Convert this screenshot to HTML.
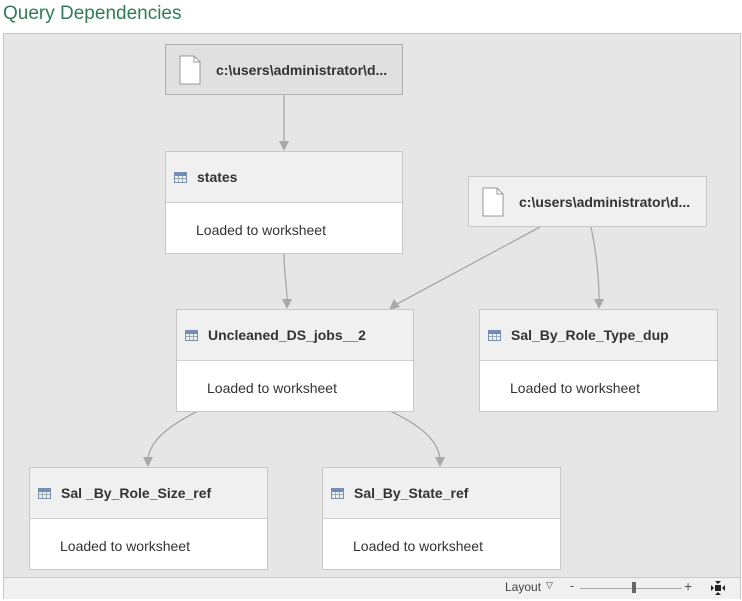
<!DOCTYPE html>
<html><head><style>
body{margin:0;width:742px;height:601px;background:#fff;font-family:"Segoe UI","Liberation Sans",sans-serif;position:relative;overflow:hidden}
.title{position:absolute;left:3px;top:3px;font-size:19px;color:#2f7c59;}
.canvas{position:absolute;left:3px;top:33px;width:736px;height:564px;background:#e6e6e6;border:1px solid #c6c6c6}
.bar{position:absolute;left:4px;top:577px;width:736px;height:21px;background:#f0f0f0;border-top:1px solid #c8c8c8}
.node{position:absolute;border:1px solid #c8c8c8;background:#fff;box-sizing:border-box}
.hd{height:51px;background:#f0f0f0;border-bottom:1px solid #d0d0d0;box-sizing:border-box;position:relative}
.hd b{position:absolute;left:31px;top:17px;font-size:14px;color:#333}
.bd{padding:19px 0 0 30px;font-size:14px;color:#333}
.ic{position:absolute;left:8px;top:20px;width:13px;height:11px;border:1px solid #7a8fb0;box-sizing:border-box;background:
linear-gradient(#6d8cc0 0 3px,transparent 3px),repeating-linear-gradient(90deg,transparent 0 3px,#9aa 3px 4px),repeating-linear-gradient(transparent 0 5px,#9aa 5px 6px)}
.src{position:absolute;border:1px solid #b0b0b0;box-sizing:border-box;height:51px}
.src b{position:absolute;left:50px;top:17px;font-size:14px;color:#333}
.doc{position:absolute;left:13px;top:10px;width:22px;height:30px}
</style></head><body>
<div class="title">Query Dependencies</div>
<div class="canvas"></div>
<svg width="742" height="601" style="position:absolute;left:0;top:0">
<g stroke="#a8a8a8" stroke-width="1.3" fill="none">
<path d="M284 95 L284 143"/>
<path d="M284 253 C284 275 287 285 287 301"/>
<path d="M540 227 L397 304"/>
<path d="M591 227 C596 250 599 275 599 301"/>
<path d="M198 411 C170 425 150 440 148 459"/>
<path d="M390 411 C420 425 438 440 440 459"/>
</g>
<g fill="#a8a8a8">
<path d="M279 141 L289 141 L284 151Z"/>
<path d="M282 299 L292 299 L287 309Z"/>
<path d="M394 299 L400 307 L389 310Z"/>
<path d="M594 299 L604 299 L599 309Z"/>
<path d="M143 457 L153 457 L148 467Z"/>
<path d="M435 457 L445 457 L440 467Z"/>
</g>
</svg>
<div class="src" style="left:165px;top:44px;width:238px;background:#e0e0e0">
<svg class="doc" viewBox="0 0 22 30"><path d="M1 1H15L21 7V29H1Z" fill="#fff" stroke="#999"/><path d="M15 1V7H21" fill="none" stroke="#999"/></svg><b>c:\users\administrator\d...</b></div>
<div class="src" style="left:468px;top:176px;width:239px;background:#f0f0f0;border-color:#c8c8c8">
<svg class="doc" viewBox="0 0 22 30"><path d="M1 1H15L21 7V29H1Z" fill="#fff" stroke="#999"/><path d="M15 1V7H21" fill="none" stroke="#999"/></svg><b>c:\users\administrator\d...</b></div>
<div class="node" style="left:165px;top:151px;width:238px;height:103px"><div class="hd"><span class="ic"></span><b>states</b></div><div class="bd">Loaded to worksheet</div></div>
<div class="node" style="left:176px;top:309px;width:238px;height:103px"><div class="hd"><span class="ic"></span><b>Uncleaned_DS_jobs__2</b></div><div class="bd">Loaded to worksheet</div></div>
<div class="node" style="left:479px;top:309px;width:239px;height:103px"><div class="hd"><span class="ic"></span><b>Sal_By_Role_Type_dup</b></div><div class="bd">Loaded to worksheet</div></div>
<div class="node" style="left:29px;top:467px;width:239px;height:103px"><div class="hd"><span class="ic"></span><b>Sal _By_Role_Size_ref</b></div><div class="bd">Loaded to worksheet</div></div>
<div class="node" style="left:322px;top:467px;width:239px;height:103px"><div class="hd"><span class="ic"></span><b>Sal_By_State_ref</b></div><div class="bd">Loaded to worksheet</div></div>
<div class="bar">
<span style="position:absolute;left:501px;top:2px;font-size:12px;color:#444">Layout</span>
<span style="position:absolute;left:542px;top:2px;font-size:9px;color:#444">▽</span>
<span style="position:absolute;left:566px;top:0px;font-size:13px;color:#555">-</span>
<div style="position:absolute;left:576px;top:10px;width:102px;height:1px;background:#aaa"></div>
<div style="position:absolute;left:628px;top:4px;width:4px;height:11px;background:#666"></div>
<span style="position:absolute;left:680px;top:0px;font-size:14px;color:#555">+</span>
<svg style="position:absolute;left:707px;top:3px" width="14" height="14"><rect x="4" y="4" width="6" height="6" fill="#222"/><path d="M0 4L3 7L0 10Z M14 4L11 7L14 10Z M4 0L10 0L7 3Z M4 14L10 14L7 11Z" fill="#222"/></svg>
</div>
</body></html>
